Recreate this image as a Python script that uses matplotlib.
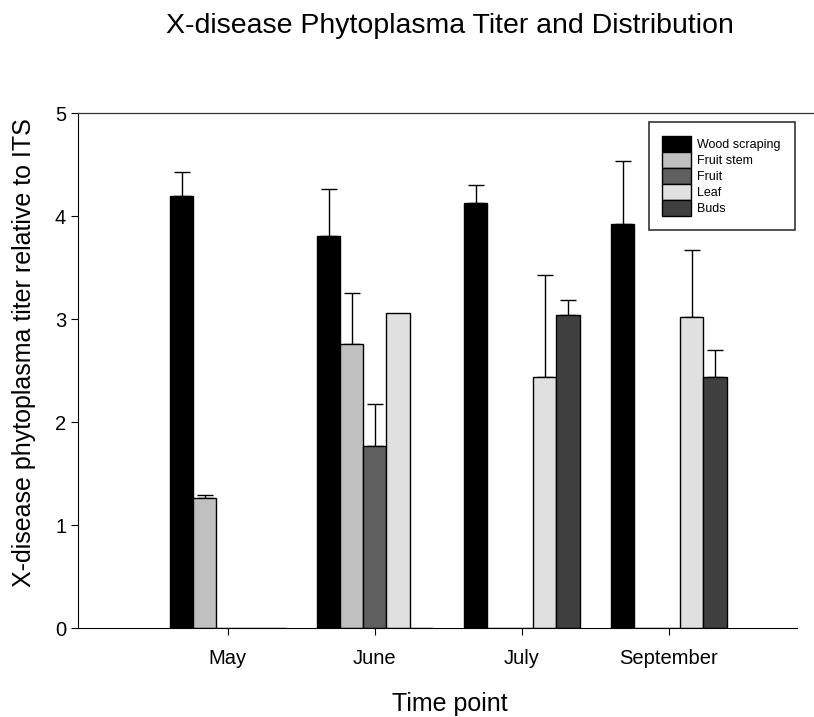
import matplotlib
matplotlib.use("Agg")
import matplotlib.pyplot as plt
from matplotlib.lines import Line2D
import numpy as np

plt.rcParams['font.family'] = ['Liberation Sans', 'DejaVu Sans']

months = ["May", "June", "July", "September"]
tissues = ["Wood scraping", "Fruit stem", "Fruit", "Leaf", "Buds"]
colors = ["#000000", "#c0c0c0", "#606060", "#e0e0e0", "#404040"]

# mean titer per tissue, one value per month (0 = not detected)
wood = [4.20, 3.81, 4.13, 3.92]
stem = [1.26, 2.76, 0.0, 0.0]
fruit = [0.0, 1.77, 0.0, 0.0]
leaf = [0.0, 3.06, 2.44, 3.02]
buds = [0.0, 0.0, 3.04, 2.44]

wood_err = [0.23, 0.45, 0.17, 0.62]
stem_err = [0.03, 0.49, 0.0, 0.0]
fruit_err = [0.0, 0.41, 0.0, 0.0]
leaf_err = [0.0, 0.0, 0.99, 0.65]
buds_err = [0.0, 0.0, 0.15, 0.26]

values = [wood, stem, fruit, leaf, buds]
errors = [wood_err, stem_err, fruit_err, leaf_err, buds_err]

fig = plt.figure(figsize=(8.14, 7.17), dpi=100)
ax = fig.add_axes([0.0958, 0.124, 0.883, 0.718])

x = np.arange(len(months))
w = 0.157
for i in range(5):
    pos = x + (i - 2) * w
    ax.bar(pos, values[i], w, color=colors[i], edgecolor="black", linewidth=1,
           label=tissues[i], zorder=2)
    err = np.array(errors[i])
    mask = err > 0
    ax.errorbar(pos[mask], np.array(values[i])[mask], yerr=[np.zeros(mask.sum()), err[mask]],
                fmt="none", ecolor="black", elinewidth=1, capsize=6, capthick=1, zorder=1)

ax.set_xlim(-1.02, 3.87)
ax.set_ylim(0, 5)
ax.set_xticks(x)
ax.set_xticklabels(months, fontsize=14.5)
ax.set_yticks(range(6))
ax.tick_params(axis="y", labelsize=14.5, direction="out", length=5)
ax.tick_params(axis="x", direction="out", length=5, pad=10)
ax.spines["top"].set_visible(False)
ax.spines["right"].set_visible(False)

# thin top frame line running out to the right edge
fig.add_artist(Line2D([0.0958, 1.0], [0.842, 0.842], color="#333333", linewidth=0.9))

ax.set_xlabel("Time point", fontsize=18)
ax.set_ylabel("X-disease phytoplasma titer relative to ITS", fontsize=18)
ax.xaxis.set_label_coords(0.517, -0.124)
ax.yaxis.set_label_coords(-0.058, 0.536)
fig.text(0.553, 0.964, "X-disease Phytoplasma Titer and Distribution", fontsize=20.5,
         ha="center", va="center")

leg = ax.legend(loc="upper right", bbox_to_anchor=(0.997, 0.9825), fontsize=9,
                frameon=True, fancybox=False, edgecolor="black", handlelength=2.3,
                handleheight=1.6, labelspacing=0.0, borderpad=1.1, handletextpad=0.5,
                borderaxespad=0)
leg.get_frame().set_linewidth(1.2)

fig.savefig("out.png", dpi=100)
